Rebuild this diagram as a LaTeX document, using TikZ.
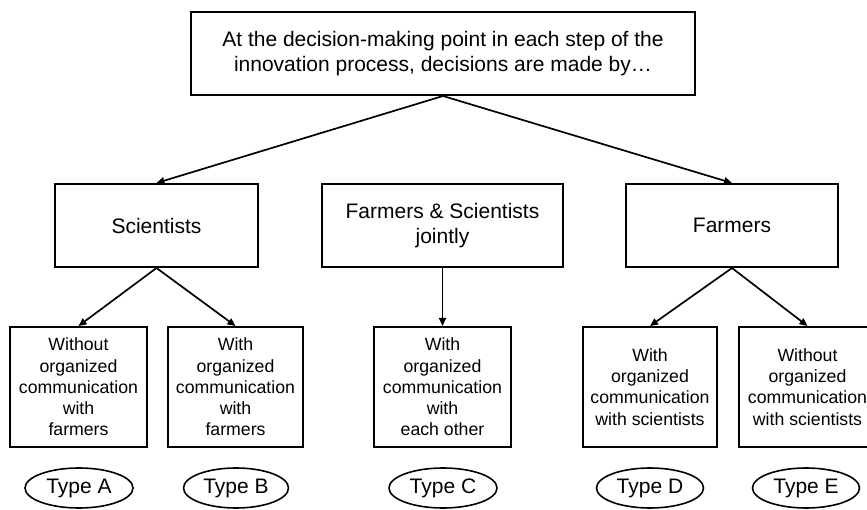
\documentclass[tikz,border=0pt]{standalone}
\usepackage{fontspec}
\setmainfont{Liberation Sans}
\usetikzlibrary{arrows.meta,shapes.geometric}
\begin{document}
\begin{tikzpicture}[x=1pt,y=-1pt,
  bigbox/.style={draw,line width=2pt,inner sep=0pt,minimum height=83pt,align=center,
    font=\fontsize{21}{25}\selectfont},
  smallbox/.style={draw,line width=2pt,inner sep=0pt,minimum height=120pt,align=center,
    font=\fontsize{17.7}{21.3}\selectfont},
  typeoval/.style={draw,ellipse,line width=1.6pt,inner sep=0pt,minimum height=40pt,
    font=\fontsize{21}{25}\selectfont},
  conn/.style={line width=1.7pt,-{Triangle[length=8pt,width=7pt]}}]
\useasboundingbox (0,0) rectangle (867,510);
\node[bigbox,minimum width=504pt] (top) at (443,53.5)
  {At the decision-making point in each step of the\\innovation process, decisions are made by\ldots};
\node[bigbox,minimum width=203pt] (sci) at (156.5,225.5) {Scientists};
\node[bigbox,minimum width=241pt] (joint) at (442.5,225.5) {Farmers \& Scientists\\jointly};
\node[bigbox,minimum width=212pt] (farm) at (732,225.5) {Farmers};
\node[smallbox,minimum width=137pt] (A) at (78.5,387) {Without\\organized\\communication\\with\\farmers};
\node[smallbox,minimum width=135pt] (B) at (235.5,387) {With\\organized\\communication\\with\\farmers};
\node[smallbox,minimum width=137pt] (C) at (442.5,387) {With\\organized\\communication\\with\\each other};
\node[smallbox,minimum width=134pt] (D) at (650,387) {With\\organized\\communication\\with scientists};
\node[smallbox,minimum width=137pt] (E) at (807.5,387) {Without\\organized\\communication\\with scientists};
\node[typeoval,minimum width=108pt] (tA) at (79,488) {Type A};
\node[typeoval,minimum width=105pt] (tB) at (236,488) {Type B};
\node[typeoval,minimum width=108pt] (tC) at (443,488) {Type C};
\node[typeoval,minimum width=107pt] (tD) at (650,488) {Type D};
\node[typeoval,minimum width=107pt] (tE) at (806,488) {Type E};
\draw[conn] (top.south) -- (sci.north);
\draw[conn] (top.south) -- (farm.north);
\draw[conn] (joint.south) -- (C.north);
\draw[conn] (sci.south) -- (A.north);
\draw[conn] (sci.south) -- (B.north);
\draw[conn] (farm.south) -- (D.north);
\draw[conn] (farm.south) -- (E.north);
\end{tikzpicture}
\end{document}
